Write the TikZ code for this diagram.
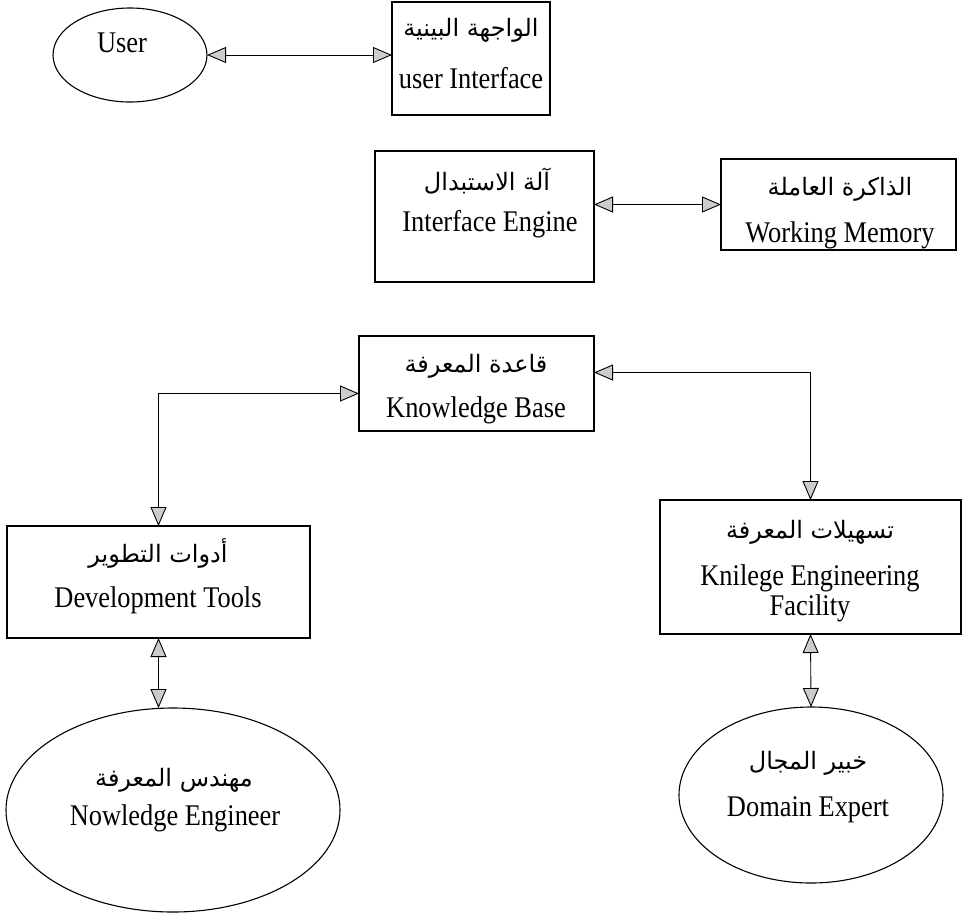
\documentclass[tikz,border=0pt]{standalone}
\usepackage{fontspec}
\setmainfont{Liberation Serif}[FakeStretch=0.88]
\newfontfamily\arabicfont[Script=Arabic]{DejaVu Sans}
\TeXXeTstate=1
\usetikzlibrary{shapes.geometric,arrows.meta}

\tikzset{
  box/.style={draw, line width=1.1pt, rectangle, inner sep=0pt, outer sep=0pt},
  oval/.style={draw, line width=1.1pt, ellipse, inner sep=0pt, outer sep=0pt},
  en/.style={font=\fontsize{30}{32}\selectfont, inner sep=0pt},
  ar/.style={font=\fontsize{24}{28}\arabicfont, inner sep=0pt},
  tipshape/.tip={Triangle[length=19pt,width=16pt,fill=gray!40]},
  link/.style={draw, line width=0.9pt, tipshape-tipshape},
}

\begin{document}
\begin{tikzpicture}[x=1pt,y=-1pt]
\useasboundingbox (0,0) rectangle (963,914);

% shapes
\node[oval, minimum width=154pt, minimum height=94pt] (user) at (130,55) {};
\node[box, minimum width=158pt, minimum height=113pt] (ui) at (471,58.5) {};
\node[box, minimum width=219pt, minimum height=131pt] (ie) at (484.5,216.5) {};
\node[box, minimum width=235pt, minimum height=91pt] (wm) at (838.5,204.5) {};
\node[box, minimum width=235pt, minimum height=95pt] (kb) at (476.5,383.5) {};
\node[box, minimum width=303pt, minimum height=112pt] (dev) at (158.5,582) {};
\node[box, minimum width=301pt, minimum height=134pt] (kef) at (810.5,567) {};
\node[oval, minimum width=334pt, minimum height=204pt] (ne) at (173,810) {};
\node[oval, minimum width=264pt, minimum height=176pt] (de) at (811,795) {};

% labels
\node[en] (userT) at (122,43) {User};
\node[ar] (uiA) at (471,30) {\beginR الواجهة البينية\endR};
\node[en] (uiE) at (471,78) {user Interface};
\node[ar] (ieA) at (487,181) {\beginR آلة الاستبدال\endR};
\node[en] (ieE) at (490,224) {Interface Engine};
\node[ar] (wmA) at (840,189) {\beginR الذاكرة العاملة\endR};
\node[en] (wmE) at (840,235) {Working Memory};
\node[ar] (kbA) at (476,366) {\beginR قاعدة المعرفة\endR};
\node[en] (kbE) at (476,410) {Knowledge Base};
\node[ar] (devA) at (158,553) {\beginR أدوات التطوير\endR};
\node[en] (devE) at (158,600) {Development Tools};
\node[ar] (kefA) at (810,532) {\beginR تسهيلات المعرفة\endR};
\node[en] (kefE) at (810,578) {Knilege Engineering};
\node[en] (kefF) at (810,608) {Facility};
\node[ar] (neA) at (174,780) {\beginR مهندس المعرفة\endR};
\node[en] (neE) at (175,818) {Nowledge Engineer};
\node[ar] (deA) at (808,763) {\beginR خبير المجال\endR};
\node[en] (deE) at (808,810) {Domain Expert};

% connectors
\coordinate (kbL) at ([yshift=-10pt]kb.west);
\coordinate (kbR) at ([yshift=11pt]kb.east);
\draw[link] (user.east) -- (user.east -| ui.west);
\draw[link] (ie.east |- wm.west) -- (wm.west);
\draw[link] (kbL) -| (dev.north);
\draw[link] (kbR) -| (kef.north);
\draw[link] (dev.south) -- (dev.south |- ne.north);
\draw[link] (kef.south) -- (de.north);
\end{tikzpicture}
\end{document}
